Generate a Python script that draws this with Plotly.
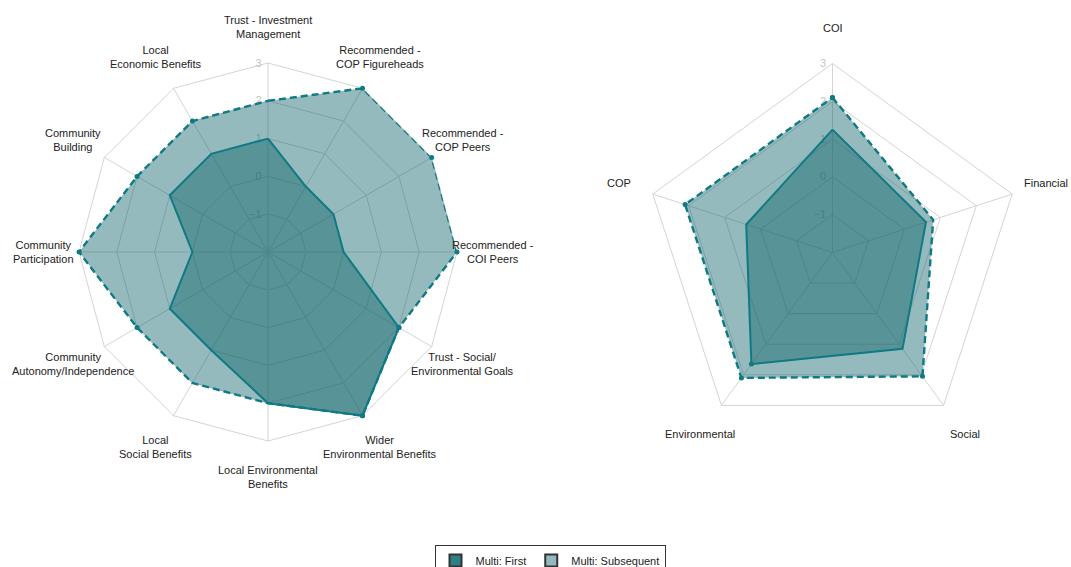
import math
import plotly.graph_objects as go

# ---------------- data ----------------
left_categories = [
    "Trust - Investment<br>Management",
    "Recommended -<br>COP Figureheads",
    "Recommended -<br>COP Peers",
    "Recommended -<br>COI Peers",
    "Trust - Social/<br>Environmental Goals",
    "Wider<br>Environmental Benefits",
    "Local Environmental<br>Benefits",
    "Local<br>Social Benefits",
    "Community<br>Autonomy/Independence",
    "Community<br>Participation",
    "Community<br>Building",
    "Local<br>Economic Benefits",
]
left_first = [1, 0, 0, 0, 2, 3, 2, 1, 1, 0, 1, 1]
left_subsequent = [2, 3, 3, 3, 2, 3, 2, 2, 2, 3, 2, 2]

right_categories = ["COI", "Financial", "Social", "Environmental", "COP"]
right_first = [1.25, 0.6, 1.15, 1.65, 0.4]
right_subsequent = [2.1, 0.8, 2.05, 2.1, 2.1]

series_names = ["Multi: First", "Multi: Subsequent"]
radial_ticks = [-1, 0, 1, 2, 3]
radial_range = [-2, 3]

# ---------------- styles ----------------
LINE = "#0f7a83"
FILL = "rgba(11,97,105,0.44)"
LEG_COLORS = ["#2f7f86", "#94b9bc"]
FONT = "Liberation Sans, Arial, sans-serif"
W, H = 1071, 567
R = 189
LABEL_R = 1.19  # label distance relative to outer ring

fig = go.Figure()


def close(vals, cats):
    return list(vals) + [vals[0]], list(cats) + [cats[0]]


def dom(cx, cy):
    return dict(x=[(cx - R) / W, (cx + R) / W],
                y=[1 - (cy + R) / H, 1 - (cy - R) / H])


charts = [
    ("polar", left_categories, [left_first, left_subsequent], (268, 252)),
    ("polar2", right_categories, [right_first, right_subsequent], (832.5, 252.5)),
]

annotations = []
for subplot, cats, series, (cx, cy) in charts:
    # subsequent underneath, first on top
    for idx in [1, 0]:
        r, th = close(series[idx], cats)
        fig.add_trace(go.Scatterpolar(
            r=r, theta=th, subplot=subplot,
            mode="lines+markers",
            fill="toself", fillcolor=FILL,
            line=dict(color=LINE, width=2 if idx == 0 else 2.4,
                      dash="solid" if idx == 0 else "7px,4px"),
            marker=dict(color=LINE, size=5),
            name=series_names[idx], showlegend=False,
            hoverinfo="r+theta+name",
        ))
    # category labels, centred on a ring just outside the chart
    n = len(cats)
    for i, c in enumerate(cats):
        ang = math.radians(90 - 360 * i / n)
        px = cx + LABEL_R * R * math.cos(ang)
        py = cy - LABEL_R * R * math.sin(ang)
        annotations.append(dict(
            text=c, x=px / W, y=1 - py / H, xref="paper", yref="paper",
            xanchor="center", yanchor="middle", showarrow=False, align="center",
            font=dict(family=FONT, size=11, color="#222222"),
        ))

# legend entries
for name, col in zip(series_names, LEG_COLORS):
    fig.add_trace(go.Scatterpolar(
        r=[None], theta=[left_categories[0]], subplot="polar",
        mode="markers", name=name,
        marker=dict(symbol="square", size=10, color=col,
                    line=dict(color="#333333", width=1)),
        showlegend=True,
    ))


def polar_layout(cats, d):
    return dict(
        domain=d,
        bgcolor="rgba(0,0,0,0)",
        gridshape="linear",
        radialaxis=dict(
            range=radial_range, tickvals=radial_ticks,
            angle=90, tickangle=90, side="counterclockwise",
            showline=False, gridcolor="#d4d4d4", gridwidth=1,
            tickfont=dict(family=FONT, size=11, color="#c4c4c4"),
            layer="below traces",
            ticks="outside", ticklen=2, tickcolor="rgba(0,0,0,0)",
        ),
        angularaxis=dict(
            categoryarray=cats, categoryorder="array",
            direction="clockwise", rotation=90,
            showline=True, linecolor="#d4d4d4", linewidth=1,
            gridcolor="#d4d4d4", gridwidth=1,
            showticklabels=False, ticks="",
            layer="below traces",
        ),
    )


fig.update_layout(
    width=W, height=H,
    margin=dict(l=0, r=0, t=0, b=0, autoexpand=False),
    paper_bgcolor="white", plot_bgcolor="white",
    polar=polar_layout(left_categories, dom(*charts[0][3])),
    polar2=polar_layout(right_categories, dom(*charts[1][3])),
    annotations=annotations,
    showlegend=True,
    legend=dict(
        orientation="h", x=550 / W, xanchor="center",
        y=1 - 545 / H, yanchor="top",
        bordercolor="#333333", borderwidth=1,
        font=dict(family=FONT, size=11, color="#222222"),
        itemsizing="constant",
    ),
    font=dict(family=FONT),
)

fig.write_html("out.html", config={"displayModeBar": False},
               post_script="document.body.style.margin='0';")
